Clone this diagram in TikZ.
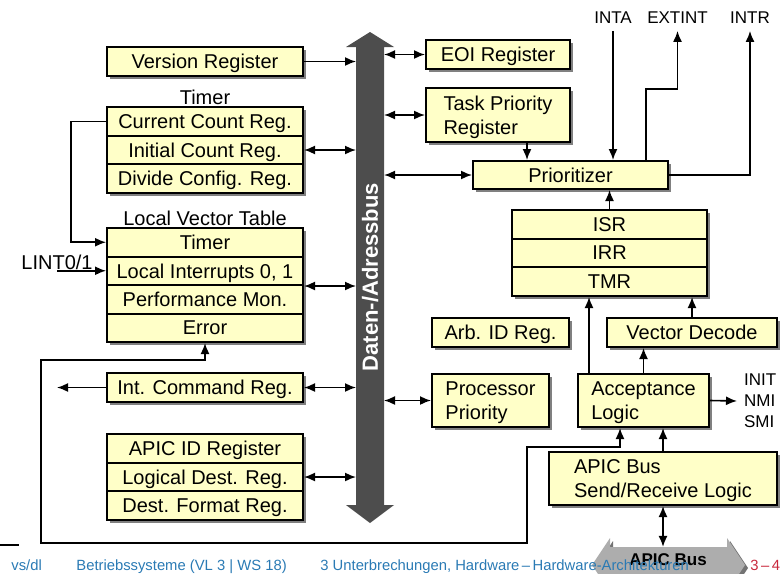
\documentclass[tikz,border=0pt]{standalone}
\usepackage{fontspec}
\setmainfont{Liberation Sans}
\usetikzlibrary{arrows.meta,shadows}
\definecolor{regfill}{RGB}{255,255,200}
\definecolor{busgray}{RGB}{77,77,77}
\definecolor{footblue}{RGB}{42,122,180}
\definecolor{footred}{RGB}{200,40,60}

\begin{document}
\begin{tikzpicture}[x=0.5pt,y=-0.5pt]
\tikzstyle{reg}=[draw,line width=1pt,fill=regfill,minimum height=14.33pt,inner sep=0pt,text depth=0pt,
  drop shadow={shadow xshift=1.5pt,shadow yshift=-1.5pt,fill=black!50,opacity=1}];
\tikzstyle{lreg}=[reg,minimum width=98pt];
\tikzstyle{lbl}=[font=\fontsize{8.5pt}{10.5pt}\selectfont];
\tikzstyle{con}=[line width=0.8pt,-{Latex[length=5.5pt,width=4.5pt]}];
\tikzstyle{dcon}=[line width=0.8pt,{Latex[length=5.5pt,width=4.5pt]}-{Latex[length=5.5pt,width=4.5pt]}];
\tikzstyle{foot}=[font=\fontsize{7.4pt}{9pt}\selectfont,text=footblue,anchor=base west,inner sep=0pt];
\useasboundingbox (0,0) rectangle (780,573);
\clip (0,0) rectangle (780,573);

% data/address bus
\fill[busgray] (370,32) -- (394,47) -- (384,47) -- (384,505) -- (394,505) -- (370,523)
  -- (346,505) -- (356,505) -- (356,47) -- (346,47) -- cycle;
\node[rotate=90,text=white,font=\bfseries\fontsize{11pt}{13pt}\selectfont] (busLbl) at (370,277) {Daten-/Adressbus};
\coordinate (busW) at (356,0);
\coordinate (busE) at (384,0);

% left column
\node[lreg,minimum height=14.5pt] (version) at (205,61.5) {Version Register};
\node (timerLbl) at (205,97) {Timer};
\node[lreg] (timerCur) at (205,121.33) {Current Count Reg.};
\node[lreg] (timerInit) at (205,150) {Initial Count Reg.};
\node[lreg] (timerDiv) at (205,178.67) {Divide Config. Reg.};
\node (lvtLbl) at (205,218) {Local Vector Table};
\node[lreg,minimum height=14.25pt] (lvtTimer) at (205,242.25) {Timer};
\node[lreg,minimum height=14.25pt] (lvtLint) at (205,270.75) {Local Interrupts 0, 1};
\node[lreg,minimum height=14.25pt] (lvtPerf) at (205,299.25) {Performance Mon.};
\node[lreg,minimum height=14.25pt] (lvtErr) at (205,327.75) {Error};
\node[lreg,minimum height=14.5pt] (icr) at (205,387.5) {Int. Command Reg.};
\node[lreg] (apicId) at (205,448.33) {APIC ID Register};
\node[lreg] (logDest) at (205,477) {Logical Dest. Reg.};
\node[lreg] (destFmt) at (205,505.67) {Dest. Format Reg.};
\node (lint) at (57,262) {LINT0/1};

% right column
\node[reg,minimum width=72pt,minimum height=14.5pt] (eoi) at (498,54.5) {EOI Register};
\node[reg,minimum width=72pt,minimum height=27pt,align=left] (tpr) at (498,115) {Task Priority\\Register};
\node[reg,minimum width=97.5pt,minimum height=14pt] (prio) at (570.5,175) {Prioritizer};
\node[reg,minimum width=97.5pt] (isr) at (609.5,224.33) {ISR};
\node[reg,minimum width=97.5pt] (irr) at (609.5,253) {IRR};
\node[reg,minimum width=97.5pt] (tmr) at (609.5,281.67) {TMR};
\node[reg,minimum width=68.5pt,minimum height=14.5pt] (arbId) at (500.5,332.5) {Arb. ID Reg.};
\node[reg,minimum width=85pt,minimum height=14.5pt] (vecDec) at (692,332.5) {Vector Decode};
\node[reg,minimum width=58.5pt,minimum height=26.5pt,align=left] (procPrio) at (490.5,400.5) {Processor\\Priority};
\node[reg,minimum width=65.5pt,minimum height=26.5pt,align=left] (accept) at (643.5,400.5) {Acceptance\\Logic};
\node[reg,minimum width=114pt,minimum height=26.5pt,align=left] (busLogic) at (663,478.5) {APIC Bus\\Send/Receive Logic};
\node[lbl] (inta) at (613,18) {INTA};
\node[lbl] (extint) at (677.5,18) {EXTINT};
\node[lbl] (intr) at (750,18) {INTR};
\node[lbl,anchor=west,align=left] (sig) at (737,401) {INIT\\NMI\\SMI};

% bus connections
\draw[con] (version.east) -- (version.east -| busW);
\draw[dcon] (timerInit.east) -- (timerInit.east -| busW);
\draw[dcon] (lvtLint.south east) -- (lvtLint.south east -| busW);
\draw[dcon] (icr.east) -- (icr.east -| busW);
\draw[dcon] (logDest.east) -- (logDest.east -| busW);
\draw[dcon] (eoi.west -| busE) -- (eoi.west);
\draw[dcon] (tpr.west -| busE) -- (tpr.west);
\draw[dcon] (prio.west -| busE) -- (prio.west);
\draw[dcon] (procPrio.west -| busE) -- (procPrio.west);

% left side
\draw[con] (timerCur.west) -- ++(-35,0) |- (lvtTimer.west);
\draw[con] (lint.south |- lvtLint.west) -- (lvtLint.west);
\coordinate (icrOut) at (57,387.5);
\draw[con] (icr.west) -- (icrOut);
\coordinate (loopA) at (41,360);
\coordinate (loopB) at (41,543);
\coordinate (loopC) at (527,447);
\draw[dcon] (lvtErr.south) |- (loopA) -- (loopB) -| (loopC) -| ([xshift=-11.75pt]accept.south);

% right side
\draw[con] ([xshift=14.5pt]tpr.south) -- ([xshift=14.5pt]tpr.south |- prio.north);
\draw[con] (inta.south) -- (inta.south |- prio.north);
\draw[con] ([xshift=37.75pt]prio.north) -- ++(0,-71) -| (extint.south);
\draw[con] (prio.east) -| (intr.south);
\draw[con] (isr.north) -- (isr.north |- prio.south);
\draw[con] ([xshift=6pt]accept.north west) -- ([xshift=6pt]accept.north west |- tmr.south);
\draw[con] (vecDec.north) -- (vecDec.north |- tmr.south);
\draw[con] (accept.north) -- (accept.north |- vecDec.south);
\draw[con] (accept.east) -- (sig.west);
\draw[con] (busLogic.north) -- (busLogic.north |- accept.south);

% APIC bus
\fill[black!55] (595,568) -- (613,541) -- (613,550) -- (730,550) -- (730,541) -- (748,568)
  -- (730,595) -- (730,586) -- (613,586) -- (613,595) -- cycle;
\fill[black!32] (592,565) -- (610,538) -- (610,547) -- (727,547) -- (727,538) -- (745,565)
  -- (727,592) -- (727,583) -- (610,583) -- (610,592) -- cycle;
\node[font=\bfseries\fontsize{8.5pt}{10pt}\selectfont] (apicBus) at (668,560) {APIC Bus};
\draw[dcon] (busLogic.south) -- (busLogic.south |- apicBus.north);

% footer
\draw[line width=0.6pt] (0,545) -- (19,545);
\node[foot] (footA) at (11,570) {vs/dl};
\node[foot] (footB) at (76,570) {Betriebssysteme (VL 3 | WS 18)};
\node[foot] (footC) at (320,570) {3 Unterbrechungen, Hardware\,–\,Hardware-Architekturen};
\node[foot,text=footred] (footD) at (750,570) {3\,–\,4};
\end{tikzpicture}
\end{document}
